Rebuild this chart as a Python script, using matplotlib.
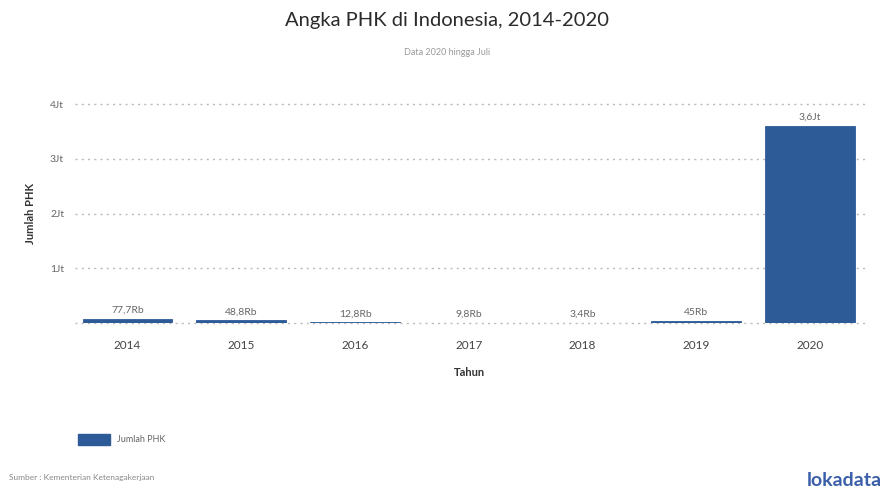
import numpy as np
import matplotlib.pyplot as plt
from matplotlib.patches import Rectangle

plt.rcParams['font.family'] = ['Lato', 'DejaVu Sans']

# data
tahun = ['2014', '2015', '2016', '2017', '2018', '2019', '2020']
jumlah_phk = [77700, 48800, 12800, 9800, 3400, 45000, 3600000]
label_phk = ['77,7Rb', '48,8Rb', '12,8Rb', '9,8Rb', '3,4Rb', '45Rb', '3,6Jt']
yticks = [1e6, 2e6, 3e6, 4e6]
ytick_labels = ['1Jt', '2Jt', '3Jt', '4Jt']

warna = '#2d5b98'

fig = plt.figure(figsize=(8.85, 4.91), dpi=100)
ax = fig.add_axes([0.085, 0.342, 0.892, 0.446])

x = np.arange(len(tahun))
# thin edge so the tiny bars still show as a line, like the original
ax.bar(x, jumlah_phk, width=0.79, color=warna, edgecolor=warna, linewidth=0.6, zorder=3)
for xi, v, lab in zip(x, jumlah_phk, label_phk):
    ax.text(xi, v + 70000, lab, ha='center', va='bottom', fontsize=7.5, color='#666666')

ax.set_xlim(-0.46, 6.48)
ax.set_ylim(0, 4e6)
ax.set_yticks(yticks)
ax.set_yticklabels(ytick_labels, fontsize=7.5, color='#666666')
ax.set_xticks(x)
ax.set_xticklabels(tahun, fontsize=8.5, color='#444444')
ax.tick_params(length=0, pad=12)
ax.tick_params(axis='y', pad=8)

# dotted grid incl. baseline
for yv in [0] + yticks:
    ax.axhline(yv, color='#bbbbbb', linestyle=(0, (1.5, 3)), linewidth=1, zorder=1, clip_on=False)

for s in ax.spines.values():
    s.set_visible(False)

ax.set_ylabel('Jumlah PHK', fontsize=8, fontweight='bold', color='#333333', labelpad=10)
ax.set_xlabel('Tahun', fontsize=8, fontweight='bold', color='#333333', labelpad=12)

fig.text(0.505, 0.958, 'Angka PHK di Indonesia, 2014-2020', ha='center', va='center',
         fontsize=14.5, color='#2b2b2b')
fig.text(0.505, 0.893, 'Data 2020 hingga Juli', ha='center', va='center',
         fontsize=6.5, color='#999999')

# legend
fig.patches.append(Rectangle((0.088, 0.094), 0.036, 0.022, transform=fig.transFigure,
                             color=warna, figure=fig))
fig.text(0.132, 0.105, 'Jumlah PHK', ha='left', va='center', fontsize=6.5, color='#666666')

fig.text(0.01, 0.027, 'Sumber : Kementerian Ketenagakerjaan', ha='left', va='center',
         fontsize=6, color='#888888')
fig.text(0.996, 0.022, 'lokadata', ha='right', va='center', fontsize=14,
         color='#3b5fa8', fontweight='bold')

fig.savefig('out.png', dpi=100)
